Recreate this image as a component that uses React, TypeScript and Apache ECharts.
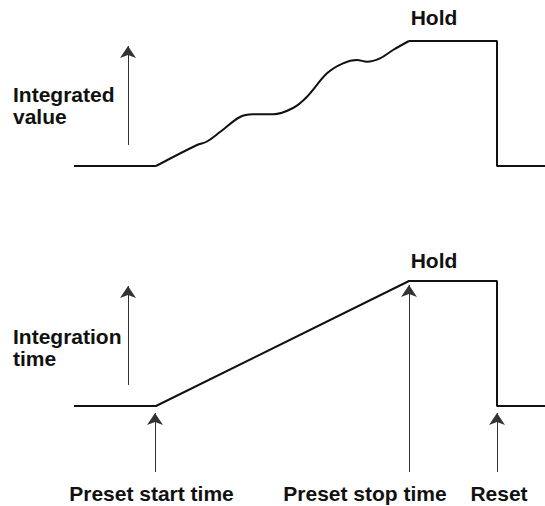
import React, { useEffect, useRef } from "react";
import * as echarts from "echarts";

// Diagram coordinates: x = time axis (0..545), y = level axis (0..506, drawn downward)
const topBase: number[][] = [[74, 166], [156, 166]];
const topCurve: number[][] = [
  [156, 166], [197, 145], [207, 141.5], [220, 132], [240, 117], [253, 114.3],
  [273, 114.3], [293, 108], [307, 96.7], [327, 73.3], [343, 63.3], [357, 60],
  [367, 61.7], [380, 58.3], [393, 50], [409, 41],
];
const topHold: number[][] = [[409, 41], [497, 41], [497, 166], [545, 166]];
const bottomLine: number[][] = [[74, 406], [156, 406], [409, 281], [497, 281], [497, 406], [545, 406]];

const arrows: number[][][] = [
  [[128, 145], [128, 46]],
  [[128, 385], [128, 286]],
  [[155, 472], [155, 413]],
  [[409, 472], [409, 285]],
  [[497, 472], [497, 413]],
];

const holdLabels = ["Hold", "Hold"];
const leftLabelsTop = ["Integrated", "value"];
const leftLabelsBottom = ["Integration", "time"];
const eventLabels = ["Preset start time", "Preset stop time", "Reset"];

const FONT = 'bold 21px "Liberation Sans", Arial, sans-serif';

export default function App() {
  const ref = useRef<HTMLDivElement>(null);
  useEffect(() => {
    if (!ref.current) return;
    const chart = echarts.init(ref.current, undefined, { renderer: "svg" });
    const lineStyle = { color: "#111", width: 2 };
    const txt = (text: string, x: number, y: number, align: string = "left", lineHeight: number = 21) => ({
      type: "text",
      x,
      y,
      style: { text, font: FONT, fill: "#111", align, verticalAlign: "middle", lineHeight },
    });
    chart.setOption({
      animation: false,
      grid: { left: 0, right: 0, top: 0, bottom: 0 },
      xAxis: { type: "value", min: 0, max: 545, show: false },
      yAxis: { type: "value", min: 0, max: 506, inverse: true, show: false },
      series: [
        { type: "line", data: topBase, symbol: "none", lineStyle },
        { type: "line", data: topCurve, symbol: "none", smooth: 0.35, lineStyle },
        { type: "line", data: topHold, symbol: "none", lineStyle },
        { type: "line", data: bottomLine, symbol: "none", lineStyle },
        {
          type: "lines",
          coordinateSystem: "cartesian2d",
          symbol: ["none", "arrow"],
          symbolSize: 12,
          lineStyle: { color: "#333", width: 1, opacity: 1 },
          data: arrows.map((c) => ({ coords: c })),
        },
      ],
      graphic: [
        txt(holdLabels[0], 434, 17.5, "center"),
        txt(holdLabels[1], 434, 260, "center"),
        txt(leftLabelsTop.join("\n"), 13, 105.25, "left", 21.5),
        txt(leftLabelsBottom.join("\n"), 13, 347.5, "left", 21.5),
        txt(eventLabels[0], 151.5, 493, "center"),
        txt(eventLabels[1], 365, 493, "center"),
        txt(eventLabels[2], 499, 493, "center"),
      ],
    });
    return () => chart.dispose();
  }, []);
  return (
    <div
      ref={ref}
      style={{ position: "fixed", left: 0, top: 0, width: 545, height: 506, background: "#fff" }}
    />
  );
}
